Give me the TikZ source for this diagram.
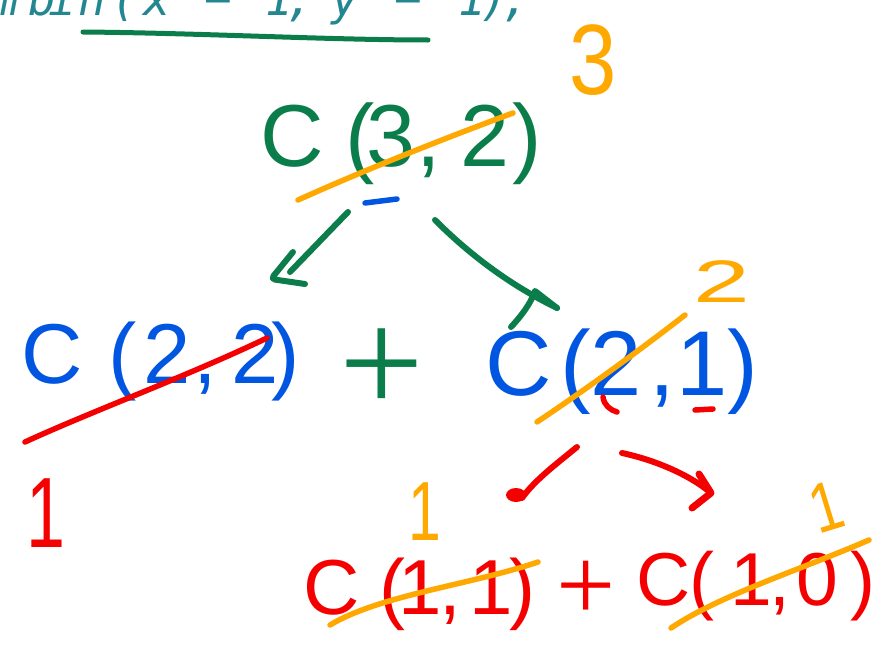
\documentclass[tikz,border=0pt]{standalone}
\usepackage{fontspec}
\setmainfont{Liberation Sans}
\newfontfamily\codefont{DejaVu Sans Mono}
\newfontfamily\plusfont{Liberation Serif}
\definecolor{inkgreen}{RGB}{10,125,75}
\definecolor{inkblue}{RGB}{0,85,225}
\definecolor{inkred}{RGB}{245,0,0}
\definecolor{inkorange}{RGB}{255,168,0}
\definecolor{codeteal}{RGB}{35,135,145}
\newcommand{\hwk}[2]{\kern#1pt\makebox[0pt]{#2}}
\newcommand{\fsz}[1]{\fontsize{#1}{#1}\selectfont}
\begin{document}
\begin{tikzpicture}[x=1pt,y=-1pt,
  pen/.style={line width=6pt,line cap=round,line join=round},
  strike/.style={line width=5.5pt,line cap=round,line join=round},
  hand/.style={inner sep=0pt,outer sep=0pt,anchor=base west},
  note/.style={inner sep=0pt,outer sep=0pt}]
\fill[white] (0,0) rectangle (888,653);
\useasboundingbox (0,0) rectangle (888,653);
\begin{scope}
\clip (0,0) rectangle (888,653);
% code line at the top, cut by the edge
\node[hand,text=codeteal,font=\codefont\itshape\fsz{46}] (code) at (5,16)
  {\hwk{0}{m}\hwk{37}{b}\hwk{20}{i}\hwk{30}{n}\hwk{33}{(}\hwk{32}{x}\hwk{61}{−}\hwk{61}{1}\hwk{21}{,}\hwk{45}{y}\hwk{63}{−}\hwk{64}{1}\hwk{22}{)}\hwk{22}{;}};
\end{scope}
\draw[strike,inkgreen,line width=5pt] (83,32) .. controls (200,33) and (330,40) .. (428,40);

% C(3,2)
\node[hand,text=inkgreen,font=\fsz{88}] (c32) at (292,166)
  {\hwk{0}{C}\hwk{68}{(}\hwk{31}{3}\hwk{38}{,}\hwk{56}{2}\hwk{42}{)}};
\node[note,text=inkorange,font=\fsz{100},xscale=0.85] (v3) at (593,60) {3};
\draw[strike,inkorange] (298,200) .. controls (360,172) and (440,140) .. (513,113);
\draw[strike,inkblue] (365,203) -- (397,199);

% green arrows
\coordinate (gla) at (348,212);
\coordinate (glb) at (290,272);
\draw[pen,inkgreen] (gla) -- (glb);
\draw[pen,inkgreen,rounded corners=4pt] (293,252) -- (271,279) -- (305,284);
\coordinate (gra) at (435,220);
\coordinate (grb) at (557,308);
\draw[pen,inkgreen] (gra) .. controls (470,255) and (510,285) .. (grb);
\draw[pen,inkgreen] (grb) -- (535,291) .. controls (532,300) and (525,312) .. (511,327);

% C(2,2) + C(2,1)
\node[hand,text=inkblue,font=\fsz{85}] (c22) at (52,383)
  {\hwk{0}{C}\hwk{71}{(}\hwk{44}{2}\hwk{38}{,}\hwk{50}{2}\hwk{31}{)}};
\draw[strike,inkred] (25,442) .. controls (90,412) and (190,375) .. (267,338);
\node[note,text=inkgreen,font=\plusfont\fsz{150}] (plus1) at (382,371) {+};
\node[hand,text=inkblue,font=\fsz{92}] (c21) at (519,395)
  {\hwk{0}{C}\hwk{57}{(}\hwk{40}{2}\hwk{46}{,}\hwk{40}{1}\hwk{41}{)}};
\draw[strike,inkorange] (537,422) .. controls (585,390) and (640,350) .. (685,315);
\node[note,text=inkorange,font=\fsz{60},xscale=1.7] (v2) at (722,282) {2};
\draw[strike,inkred] (603,397) .. controls (604,405) and (610,410) .. (617,412);
\draw[strike,inkred] (695,410) -- (713,409);

% results
\node[note,text=inkred,font=\fsz{100},xscale=0.7] (r22) at (46,513) {1};
\node[note,text=inkorange,font=\fsz{84},xscale=0.7] (r11) at (425,512) {1};

% red arrows
\coordinate (rla) at (577,447);
\coordinate (rlb) at (522,498);
\draw[pen,inkred] (rla) .. controls (555,465) and (535,480) .. (rlb);
\fill[inkred] (516,495) ellipse (10 and 7);
\coordinate (rra) at (622,453);
\coordinate (rrb) at (711,493);
\draw[pen,inkred] (rra) .. controls (655,460) and (690,475) .. (rrb);
\draw[pen,inkred,line width=7pt] (699,474) -- (rrb) -- (692,508);

% C(1,1) + C(1,0)
\node[hand,text=inkred,font=\fsz{78}] (c11) at (332,614)
  {\hwk{0}{C}\hwk{61}{(}\hwk{27}{1}\hwk{30}{,}\hwk{41}{1}\hwk{32}{)}};
\draw[strike,inkorange] (330,625) .. controls (380,595) and (470,585) .. (538,562);
\node[note,text=inkred,font=\plusfont\fsz{105}] (plus2) at (586,591) {+};
\node[hand,text=inkred,font=\fsz{75}] (c10) at (664,605)
  {\hwk{0}{C}\hwk{38}{(}\hwk{49}{1}\hwk{29}{,}\hwk{37}{0}\hwk{46}{)}};
\draw[strike,inkorange] (671,628) .. controls (720,595) and (800,570) .. (869,540);
\node[note,text=inkorange,font=\fsz{70},rotate=17,xscale=0.8] (r10) at (826,507) {1};
\end{tikzpicture}
\end{document}
